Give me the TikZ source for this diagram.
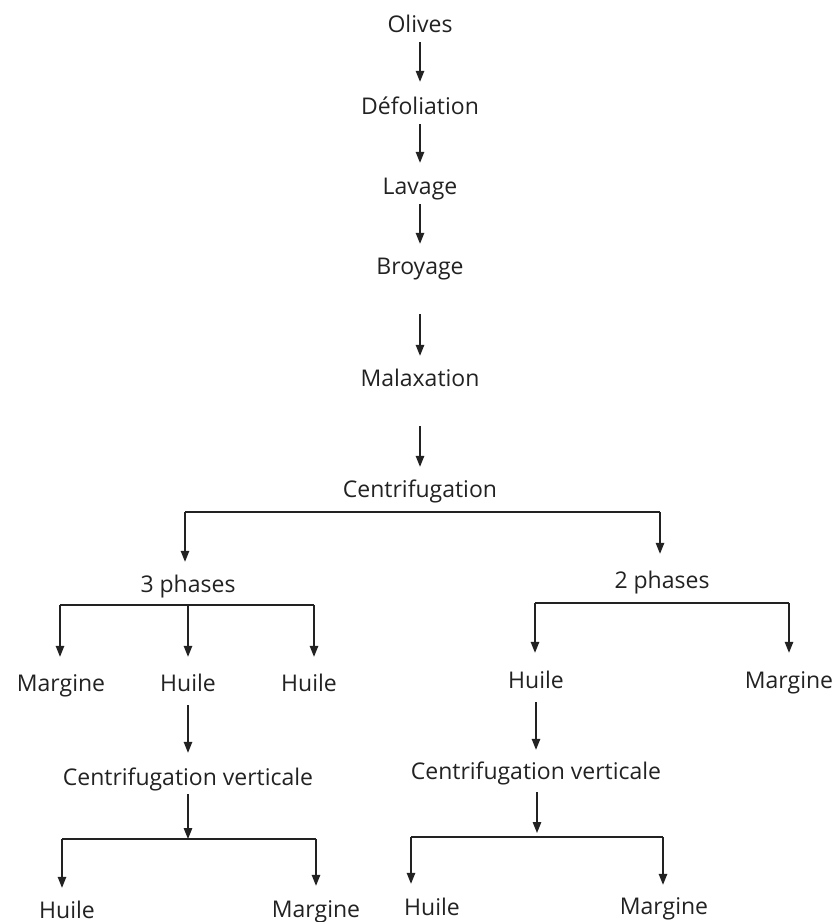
\documentclass[tikz,border=0pt]{standalone}
\usepackage{fontspec}
\setmainfont{Open Sans}
\usetikzlibrary{arrows.meta}
\definecolor{ink}{HTML}{222222}
\begin{document}
\begin{tikzpicture}[x=1pt,y=-1pt,
  lbl/.style={inner sep=0pt, anchor=base, text=ink, font=\fontsize{23}{26}\selectfont, text height=16pt, text depth=0pt},
  arr/.style={-{Triangle[length=11pt,width=8.5pt]}, line width=1.3pt, draw=ink},
  barline/.style={line width=1.3pt, draw=ink}]
\useasboundingbox (0,0) rectangle (837,922);
% main chain
\node[lbl] (olives)  at (420,32)  {Olives};
\node[lbl] (defol)   at (420,114) {Défoliation};
\node[lbl] (lavage)  at (420,194) {Lavage};
\node[lbl] (broyage) at (420,274) {Broyage};
\node[lbl] (malax)   at (420,386) {Malaxation};
\node[lbl] (centri)  at (420,497) {Centrifugation};
% second level
\node[lbl] (ph3) at (188,592) {3 phases};
\node[lbl] (ph2) at (662,588) {2 phases};
% third level
\node[lbl] (marg1)  at (61,691)  {Margine};
\node[lbl] (huile1) at (188,691) {Huile};
\node[lbl] (huile2) at (309,691) {Huile};
\node[lbl] (huile3) at (536,688) {Huile};
\node[lbl] (marg2)  at (789,688) {Margine};
% vertical centrifugation
\node[lbl] (cv1) at (188,785) {Centrifugation verticale};
\node[lbl] (cv2) at (536,779) {Centrifugation verticale};
% bottom
\node[lbl] (huile4) at (67,918)  {Huile};
\node[lbl] (marg3)  at (316,917) {Margine};
\node[lbl] (huile5) at (432,915) {Huile};
\node[lbl] (marg4)  at (664,914) {Margine};
% chain arrows
\draw[arr, shorten <=10pt, shorten >=16pt] (olives.south) -- (defol.north);
\draw[arr, shorten <=10pt, shorten >=15pt] (defol.south) -- (lavage.north);
\draw[arr, shorten <=10pt, shorten >=14pt] (lavage.south) -- (broyage.north);
\draw[arr, shorten <=40pt, shorten >=14pt] (broyage.south) -- (malax.north);
\draw[arr, shorten <=40pt, shorten >=14pt] (malax.south) -- (centri.north);
% centrifugation branching
\coordinate (b1l) at (185,512);
\coordinate (b1r) at (660,512);
\draw[barline] (b1l) -- (b1r);
\draw[arr, shorten >=14pt] (b1l) -- (b1l |- ph3.north);
\draw[arr, shorten >=18pt] (b1r) -- (b1r |- ph2.north);
% 3 phases branching
\coordinate (b2l) at (60,605);
\coordinate (b2m) at (188,605);
\coordinate (b2r) at (314,605);
\draw[barline] (b2l) -- (b2r);
\draw[arr, shorten >=18pt] (b2l) -- (b2l |- marg1.north);
\draw[arr, shorten >=18pt] (b2m) -- (b2m |- huile1.north);
\draw[arr, shorten >=18pt] (b2r) -- (b2r |- huile2.north);
% 2 phases branching
\coordinate (b3l) at (535,603);
\coordinate (b3r) at (789,603);
\draw[barline] (b3l) -- (b3r);
\draw[arr, shorten >=19pt] (b3l) -- (b3l |- huile3.north);
\draw[arr, shorten >=19pt] (b3r) -- (b3r |- marg2.north);
% huile -> centrifugation verticale
\draw[arr, shorten <=14pt, shorten >=16pt] (huile1.south) -- (cv1.north);
\draw[arr, shorten <=14pt, shorten >=13pt] (huile3.south) -- (cv2.north);
% bottom left branching
\coordinate (b4m) at (188,839);
\coordinate (b4l) at (62,839);
\coordinate (b4r) at (316,839);
\draw[arr, shorten <=9pt] (b4m |- cv1.south) -- (b4m);
\draw[barline] (b4l) -- (b4r);
\draw[arr, shorten >=14pt] (b4l) -- (b4l |- huile4.north);
\draw[arr, shorten >=15pt] (b4r) -- (b4r |- marg3.north);
% bottom right branching
\coordinate (b5m) at (537,837);
\coordinate (b5l) at (411,837);
\coordinate (b5r) at (663,837);
\draw[arr, shorten <=13pt, shorten >=4pt] (b5m |- cv2.south) -- (b5m);
\draw[barline] (b5l) -- (b5r);
\draw[arr, shorten >=15pt] (b5l) -- (b5l |- huile5.north);
\draw[arr, shorten >=13pt] (b5r) -- (b5r |- marg4.north);
\end{tikzpicture}
\end{document}
